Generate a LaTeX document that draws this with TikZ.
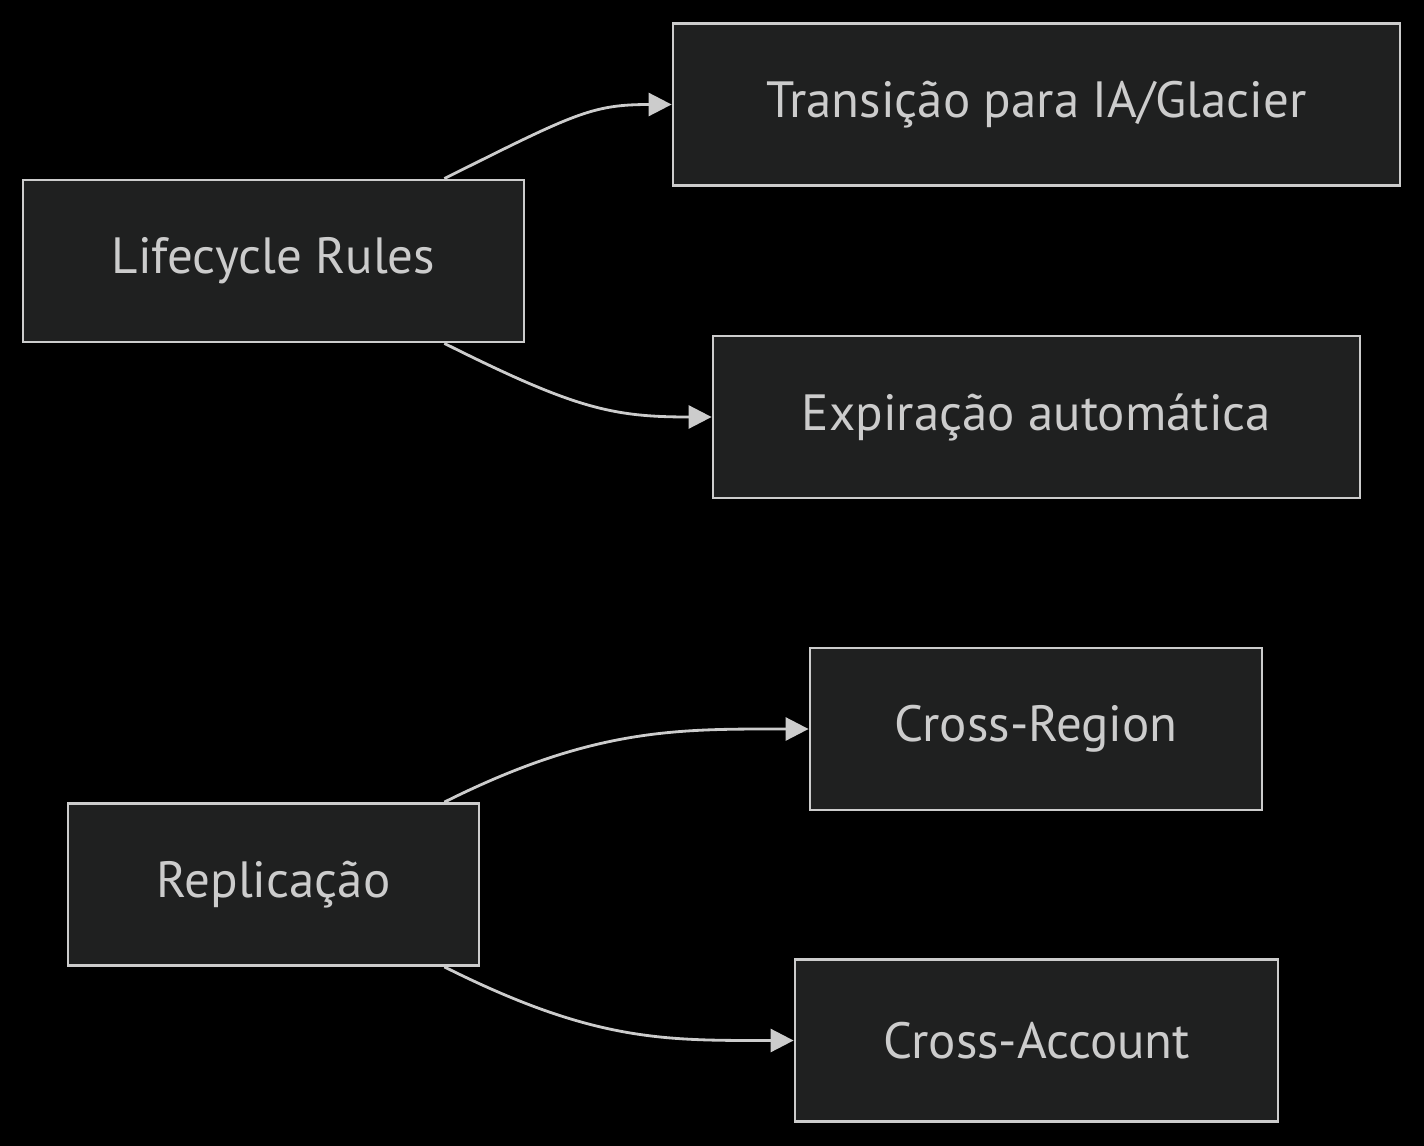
\documentclass[tikz,border=0pt]{standalone}
\usepackage{fontspec}
\setmainfont{PT Sans}
\usetikzlibrary{arrows.meta}
\definecolor{boxfill}{HTML}{1F2020}
\definecolor{boxline}{HTML}{CCCCCC}
\definecolor{txtgray}{HTML}{CCCCCC}
\tikzset{
    flowbox/.style={draw=boxline, fill=boxfill, line width=1.6pt, text=txtgray,
        minimum height=3.24cm, inner sep=0pt, font=\fontsize{29}{32}\selectfont},
    flowarrow/.style={draw=boxline, line width=1.6pt,
        -{Triangle[length=0.46cm,width=0.46cm]}}
}
\begin{document}
\begin{tikzpicture}
        % Background
        \fill[black] (0,0) rectangle (28.48,-22.92);
        \useasboundingbox (0,0) rectangle (28.48,-22.92);
        % Source boxes (left)
        \node[flowbox, minimum width=10.02cm] (lr) at (5.47,-5.22) {Lifecycle Rules};
        \node[flowbox, minimum width=8.22cm] (rp) at (5.47,-17.69) {Replicação};
        % Target boxes (right)
        \node[flowbox, minimum width=14.54cm] (tr) at (20.73,-2.09) {Transição para IA/Glacier};
        \node[flowbox, minimum width=12.94cm] (ex) at (20.73,-8.34) {Expiração automática};
        \node[flowbox, minimum width=9.04cm] (cr) at (20.72,-14.58) {Cross-Region};
        \node[flowbox, minimum width=9.66cm] (ca) at (20.73,-20.81) {Cross-Account};
        % Curved arrows
        \draw[flowarrow] ([xshift=-1.62cm]lr.north east) .. controls +(2.6,1.3) and +(-1.6,0) .. (tr.west);
        \draw[flowarrow] ([xshift=-1.62cm]lr.south east) .. controls +(2.6,-1.3) and +(-2.0,0) .. (ex.west);
        \draw[flowarrow] ([xshift=-0.72cm]rp.north east) .. controls +(3.0,1.5) and +(-2.6,0) .. (cr.west);
        \draw[flowarrow] ([xshift=-0.72cm]rp.south east) .. controls +(3.0,-1.5) and +(-2.6,0) .. (ca.west);
    \end{tikzpicture}
\end{document}
